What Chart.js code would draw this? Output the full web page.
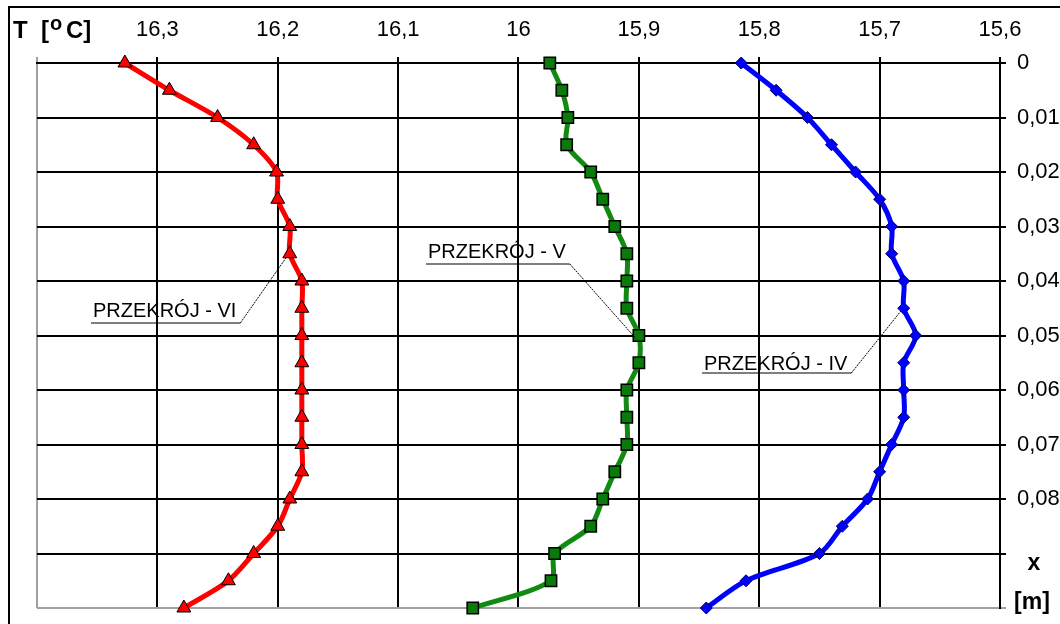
<!DOCTYPE html>
<html>
<head>
<meta charset="utf-8">
<script src="https://cdn.jsdelivr.net/npm/chart.js@4.4.0/dist/chart.umd.min.js"></script>
<style>
  html, body { margin: 0; padding: 0; background: #fff; }
  #wrap { width: 1060px; height: 624px; }
</style>
</head>
<body>
<div id="wrap"><canvas id="chart" width="1060" height="624"></canvas></div>
<script>
// Głębokość x [m] - punkty pomiarowe
const depths = [0, 0.005, 0.01, 0.015, 0.02, 0.025, 0.03, 0.035, 0.04, 0.045, 0.05,
                0.055, 0.06, 0.065, 0.07, 0.075, 0.08, 0.085, 0.09, 0.095, 0.1];

// Temperatury T [°C] dla przekrojów
const tempVI = [16.327, 16.290, 16.250, 16.220, 16.201, 16.200, 16.190, 16.190, 16.180, 16.180, 16.180,
                16.180, 16.180, 16.180, 16.180, 16.180, 16.190, 16.200, 16.220, 16.241, 16.278];
const tempV  = [15.974, 15.964, 15.959, 15.960, 15.940, 15.930, 15.920, 15.910, 15.910, 15.910, 15.900,
                15.900, 15.910, 15.910, 15.910, 15.920, 15.930, 15.940, 15.970, 15.973, 16.038];
const tempIV = [15.815, 15.786, 15.760, 15.740, 15.720, 15.700, 15.690, 15.690, 15.680, 15.680, 15.670,
                15.680, 15.680, 15.680, 15.690, 15.700, 15.710, 15.731, 15.750, 15.811, 15.844];

// Opisy przekrojów i punkt, do którego prowadzi linia odniesienia
const sectionNames = ['PRZEKRÓJ - VI', 'PRZEKRÓJ - V', 'PRZEKRÓJ - IV'];
const sectionPointIdx = [7, 10, 9];

const FONT = "'Liberation Sans', Arial, sans-serif";

const fmt = (v, d) => String(Number(v.toFixed(d))).replace('.', ',');
const toPoints = temps => temps.map((t, i) => ({ x: t, y: depths[i] }));

// Ramka, tytuł osi i opisy przekrojów
const decorPlugin = {
    id: 'decor',
    beforeDraw(chart) {
        const c = chart.ctx;
        c.save();
        c.fillStyle = '#fff';
        c.fillRect(0, 0, chart.width, chart.height);
        c.strokeStyle = '#000';
        c.lineWidth = 2;
        c.strokeRect(9, 7, chart.width + 20, chart.height + 20);
        c.restore();
    },
    afterDatasetsDraw(chart, args, opts) {
        const c = chart.ctx;
        const yScale = chart.scales.y;
        c.save();

        // T [oC]
        c.fillStyle = '#000';
        c.textBaseline = 'alphabetic';
        c.textAlign = 'left';
        c.font = 'bold 24px ' + FONT;
        c.fillText('T', 13, 38);
        c.fillText('[', 41, 38);
        c.fillText('C]', 66, 38);
        c.font = 'bold 20px ' + FONT;
        c.fillText('o', 50, 30);

        // x [m] przy osi pionowej
        c.font = 'bold 23px ' + FONT;
        c.textAlign = 'center';
        c.textBaseline = 'middle';
        c.fillText('x', 1034, yScale.getPixelForValue(0.09) + 10);
        c.fillText('[m]', 1032, yScale.getPixelForValue(0.1) - 5);

        // opisy przekrojów z liniami odniesienia
        c.font = '20px ' + FONT;
        c.textAlign = 'left';
        c.textBaseline = 'alphabetic';
        opts.labels.forEach((lab, i) => {
            const pt = chart.getDatasetMeta(i).data[sectionPointIdx[i]];
            const w = c.measureText(sectionNames[i]).width;
            c.fillStyle = '#000';
            c.fillText(sectionNames[i], lab.x, lab.y);
            const uy = lab.y + lab.under;
            const ux1 = lab.x - 2;
            const ux2 = lab.x + w + 4;
            c.strokeStyle = '#000';
            c.lineWidth = 1;
            c.setLineDash([]);
            c.beginPath();
            c.moveTo(ux1, uy);
            c.lineTo(ux2, uy);
            c.stroke();
            c.setLineDash([2, 1]);
            c.beginPath();
            c.moveTo(ux2, uy);
            c.lineTo(pt.x - 3, pt.y + 3);
            c.stroke();
        });
        c.restore();
    }
};

const gridColor = (edgeValue) => (ctx) =>
    (ctx.tick && Math.abs(ctx.tick.value - edgeValue) < 1e-6) ? '#a0a0a0' : '#000';

new Chart(document.getElementById('chart'), {
    type: 'line',
    data: {
        datasets: [
            {
                label: sectionNames[0],
                data: toPoints(tempVI),
                borderColor: '#ff0000',
                backgroundColor: '#ff0000',
                borderWidth: 5,
                pointStyle: 'triangle',
                pointRadius: 8,
                pointBorderColor: '#000',
                pointBorderWidth: 1,
                pointBackgroundColor: '#ff0000',
                tension: 0.3,
                clip: false
            },
            {
                label: sectionNames[1],
                data: toPoints(tempV),
                borderColor: '#108a10',
                backgroundColor: '#108a10',
                borderWidth: 5,
                pointStyle: 'rect',
                pointRadius: 8,
                pointBorderColor: '#000',
                pointBorderWidth: 1.5,
                pointBackgroundColor: '#0a7a0a',
                tension: 0.3,
                clip: false
            },
            {
                label: sectionNames[2],
                data: toPoints(tempIV),
                borderColor: '#0000ff',
                backgroundColor: '#0000ff',
                borderWidth: 5,
                pointStyle: 'rectRot',
                pointRadius: 6,
                pointBorderColor: '#000060',
                pointBorderWidth: 1,
                pointBackgroundColor: '#0000ff',
                tension: 0.3,
                clip: false
            }
        ]
    },
    options: {
        responsive: false,
        animation: false,
        layout: { padding: { left: 37, top: 0, right: 0, bottom: 16 } },
        scales: {
            x: {
                type: 'linear',
                position: 'top',
                reverse: true,
                min: 15.6,
                max: 16.4,
                afterFit: s => {
                    s.height = 63;
                    s.paddingLeft = 0;
                    s.paddingRight = 0;
                },
                ticks: {
                    stepSize: 0.1,
                    autoSkip: false,
                    maxRotation: 0,
                    padding: 14,
                    color: '#000',
                    font: { family: FONT, size: 22 },
                    callback: v => Math.abs(v - 16.4) < 1e-6 ? '' : fmt(v, 1)
                },
                grid: {
                    color: gridColor(16.4),
                    lineWidth: 2,
                    tickLength: 6
                },
                border: { color: '#000', width: 2 }
            },
            y: {
                type: 'linear',
                position: 'right',
                reverse: true,
                min: 0,
                max: 0.1,
                afterFit: s => {
                    s.width = 60;
                    s.paddingTop = 0;
                    s.paddingBottom = 0;
                },
                ticks: {
                    stepSize: 0.01,
                    autoSkip: false,
                    crossAlign: 'near',
                    padding: 11,
                    color: '#000',
                    font: { family: FONT, size: 22 },
                    callback: v => v > 0.085 ? '' : fmt(v, 2)
                },
                grid: {
                    color: gridColor(0.1),
                    lineWidth: 2,
                    tickLength: 6
                },
                border: { color: '#000', width: 2 }
            }
        },
        plugins: {
            legend: { display: false },
            tooltip: { enabled: false },
            decor: {
                labels: [
                    { x: 93, y: 317, under: 6 },
                    { x: 428, y: 258, under: 6 },
                    { x: 704, y: 370, under: 3 }
                ]
            }
        }
    },
    plugins: [decorPlugin]
});
</script>
</body>
</html>
